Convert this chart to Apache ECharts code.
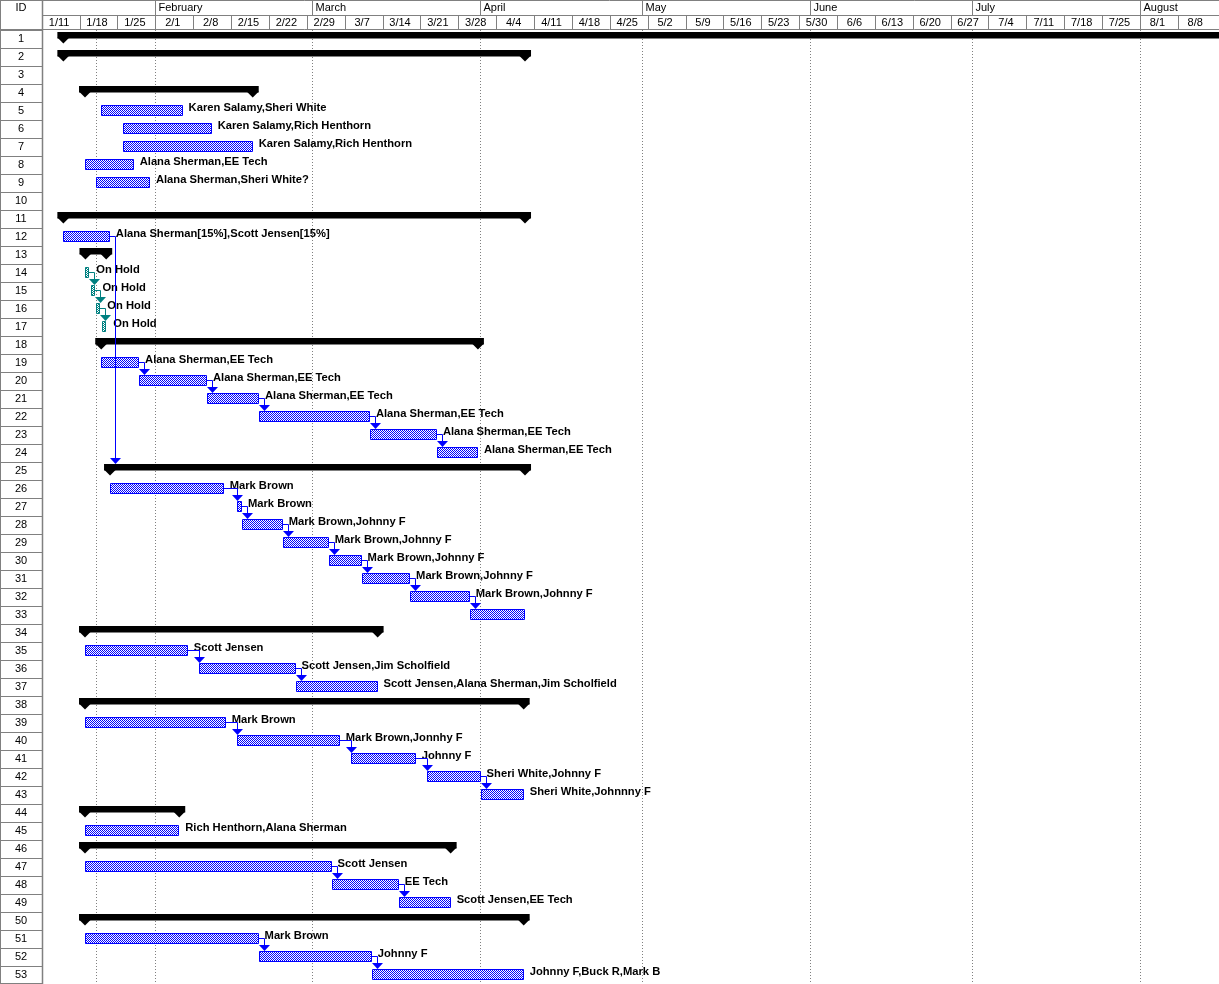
<!DOCTYPE html>
<html>
<head>
<meta charset="utf-8">
<script src="https://cdn.jsdelivr.net/npm/echarts@6/dist/echarts.min.js"></script>
<style>
html, body { margin: 0; padding: 0; background: #fff; }
#main { width: 1219px; height: 984px; }
</style>
</head>
<body>
<div id="main"></div>
<script>
// row IDs shown in the left column
var rowIds = ['1','2','3','4','5','6','7','8','9','10','11','12','13','14','15','16','17','18','19','20',
  '21','22','23','24','25','26','27','28','29','30','31','32','33','34','35','36','37','38','39','40',
  '41','42','43','44','45','46','47','48','49','50','51','52','53'];

// S = summary, T = task, H = on hold
var taskRows = [1, 2, 4, 5, 6, 7, 8, 9, 11, 12, 13, 14, 15, 16, 17, 18, 19, 20, 21, 22, 23, 24,
  25, 26, 27, 28, 29, 30, 31, 32, 33, 34, 35, 36, 37, 38, 39, 40, 41, 42, 43, 44, 45, 46, 47, 48, 49,
  50, 51, 52, 53];
var taskTypes = ['S', 'S', 'S', 'T', 'T', 'T', 'T', 'T', 'S', 'T', 'S', 'H', 'H', 'H', 'H', 'S', 'T', 'T', 'T', 'T', 'T', 'T',
  'S', 'T', 'T', 'T', 'T', 'T', 'T', 'T', 'T', 'S', 'T', 'T', 'T', 'S', 'T', 'T', 'T', 'T', 'T', 'S', 'T', 'S', 'T', 'T', 'T',
  'S', 'T', 'T', 'T'];
var taskStarts = [
  '2004-01-15 00:00', '2004-01-15 00:00', '2004-01-19 00:00', '2004-01-22 00:00', '2004-01-26 00:00',
  '2004-01-26 00:00', '2004-01-19 00:00', '2004-01-21 00:00', '2004-01-15 00:00', '2004-01-15 00:00',
  '2004-01-19 02:00', '2004-01-19 02:00', '2004-01-20 01:00', '2004-01-21 01:00', '2004-01-22 02:00',
  '2004-01-22 00:00', '2004-01-22 00:00', '2004-01-29 00:00', '2004-02-10 13:00', '2004-02-20 04:00',
  '2004-03-11 16:00', '2004-03-24 01:00',
  '2004-01-23 15:00', '2004-01-23 16:00', '2004-02-16 04:00', '2004-02-17 00:00', '2004-02-24 13:00',
  '2004-03-04 01:00', '2004-03-10 03:00', '2004-03-19 02:00', '2004-03-30 03:00',
  '2004-01-19 00:00', '2004-01-19 00:00', '2004-02-09 03:00', '2004-02-26 22:00',
  '2004-01-19 00:00', '2004-01-19 00:00', '2004-02-16 04:00', '2004-03-08 04:00', '2004-03-22 05:00',
  '2004-04-01 03:00', '2004-01-19 00:00', '2004-01-19 00:00', '2004-01-19 00:00', '2004-01-19 00:00',
  '2004-03-04 14:00', '2004-03-17 00:00',
  '2004-01-19 00:00', '2004-01-19 00:00', '2004-02-20 02:00', '2004-03-12 00:00'];
var taskEnds = [
  '2004-09-30 00:00', '2004-04-09 08:00', '2004-02-19 00:00', '2004-02-06 01:00', '2004-02-11 10:00',
  '2004-02-19 00:00', '2004-01-28 00:00', '2004-01-31 00:00', '2004-04-09 08:00', '2004-01-23 14:00',
  '2004-01-22 22:00', '2004-01-19 19:00', '2004-01-20 22:00', '2004-01-21 20:00', '2004-01-22 22:00',
  '2004-03-31 15:00', '2004-01-29 00:00', '2004-02-10 13:00', '2004-02-20 04:00', '2004-03-11 16:00',
  '2004-03-24 01:00', '2004-03-31 15:00',
  '2004-04-09 08:00', '2004-02-13 15:00', '2004-02-17 00:00', '2004-02-24 13:00', '2004-03-04 01:00',
  '2004-03-10 03:00', '2004-03-19 02:00', '2004-03-30 03:00', '2004-04-09 08:00',
  '2004-03-13 02:00', '2004-02-07 00:00', '2004-02-26 22:00', '2004-03-13 02:00',
  '2004-04-09 02:00', '2004-02-14 00:00', '2004-03-06 02:00', '2004-03-20 03:00', '2004-04-01 03:00',
  '2004-04-09 02:00', '2004-02-05 10:00', '2004-02-05 10:00', '2004-03-26 14:00', '2004-03-04 14:00',
  '2004-03-17 00:00', '2004-03-26 14:00',
  '2004-04-09 02:00', '2004-02-20 02:00', '2004-03-12 00:00', '2004-04-09 02:00'];
var taskNames = ['', '', '', 'Karen Salamy,Sheri White', 'Karen Salamy,Rich Henthorn',
  'Karen Salamy,Rich Henthorn', 'Alana Sherman,EE Tech', 'Alana Sherman,Sheri White?', '',
  'Alana Sherman[15%],Scott Jensen[15%]', '', 'On Hold', 'On Hold', 'On Hold', 'On Hold', '',
  'Alana Sherman,EE Tech', 'Alana Sherman,EE Tech', 'Alana Sherman,EE Tech', 'Alana Sherman,EE Tech',
  'Alana Sherman,EE Tech', 'Alana Sherman,EE Tech',
  '', 'Mark Brown', 'Mark Brown', 'Mark Brown,Johnny F', 'Mark Brown,Johnny F', 'Mark Brown,Johnny F',
  'Mark Brown,Johnny F', 'Mark Brown,Johnny F', '',
  '', 'Scott Jensen', 'Scott Jensen,Jim Scholfield', 'Scott Jensen,Alana Sherman,Jim Scholfield',
  '', 'Mark Brown', 'Mark Brown,Jonnhy F', 'Johnny F', 'Sheri White,Johnny F', 'Sheri White,Johnnny F',
  '', 'Rich Henthorn,Alana Sherman', '', 'Scott Jensen', 'EE Tech', 'Scott Jensen,EE Tech',
  '', 'Mark Brown', 'Johnny F', 'Johnny F,Buck R,Mark B'];

// predecessor row -> successor row
var links = [[12, 25], [14, 15], [15, 16], [16, 17],
  [19, 20], [20, 21], [21, 22], [22, 23], [23, 24],
  [26, 27], [27, 28], [28, 29], [29, 30], [30, 31], [31, 32], [32, 33],
  [35, 36], [36, 37], [39, 40], [40, 41], [41, 42], [42, 43],
  [47, 48], [48, 49], [51, 52], [52, 53]];

// timescale
var monthStarts = ['2004-01-01', '2004-02-01', '2004-03-01', '2004-04-01', '2004-05-01',
  '2004-06-01', '2004-07-01', '2004-08-01'];
var monthNames = ['', 'February', 'March', 'April', 'May', 'June', 'July', 'August'];
var weekLabels = ['1/11', '1/18', '1/25', '2/1', '2/8', '2/15', '2/22', '2/29', '3/7', '3/14', '3/21',
  '3/28', '4/4', '4/11', '4/18', '4/25', '5/2', '5/9', '5/16', '5/23', '5/30', '6/6', '6/13', '6/20',
  '6/27', '7/4', '7/11', '7/18', '7/25', '8/1', '8/8'];
var dottedDates = ['2004-01-21', '2004-02-01', '2004-03-01', '2004-04-01', '2004-05-01',
  '2004-06-01', '2004-07-01', '2004-08-01'];
var axisMin = '2004-01-11 05:38';
var axisMax = '2004-08-15 14:38';

var GRAY = '#808080';
var BLUE = '#0000ff';
var TEAL = '#008080';
var DAY = 86400000;
var LABEL_FONT = 'bold 11.2px "Liberation Sans", Arial, sans-serif';
var HEAD_FONT = '11px "Liberation Sans", Arial, sans-serif';

function toTime(s) {
  var p = s.split(/[- :\/]/);
  return new Date(+p[0], +p[1] - 1, +p[2], +(p[3] || 0), +(p[4] || 0)).getTime();
}

function makePattern(c) {
  var cv = document.createElement('canvas');
  cv.width = 2; cv.height = 2;
  var g = cv.getContext('2d');
  g.fillStyle = '#fff'; g.fillRect(0, 0, 2, 2);
  g.fillStyle = c; g.fillRect(0, 0, 1, 1); g.fillRect(1, 1, 1, 1);
  return { image: cv, repeat: 'repeat' };
}
var bluePat = makePattern(BLUE);
var tealPat = makePattern(TEAL);

var rowPos = {};
taskRows.forEach(function (r, i) { rowPos[r] = i; });

function txt(text, x, y, font, align) {
  return {
    type: 'text',
    style: {
      text: text, x: x, y: y, fill: '#000', font: font,
      align: align, textAlign: align, verticalAlign: 'middle', textVerticalAlign: 'middle'
    },
    silent: true
  };
}

function renderTask(params, api) {
  var i = params.dataIndex;
  var row = api.value(0);
  var p0 = api.coord([api.value(1), row]);
  var p1 = api.coord([api.value(2), row]);
  var c = Math.round(p0[1]);
  var x0 = p0[0], x1 = p1[0];
  var type = taskTypes[i];
  var kids = [];
  if (type === 'S') {
    kids.push({ type: 'rect', shape: { x: x0 - 6, y: c - 7, width: x1 - x0 + 12, height: 6.5 }, style: { fill: '#000' } });
    kids.push({ type: 'polygon', shape: { points: [[x0 - 6, c - 1.5], [x0 + 6, c - 1.5], [x0, c + 4.5]] }, style: { fill: '#000' } });
    kids.push({ type: 'polygon', shape: { points: [[x1 - 6, c - 1.5], [x1 + 6, c - 1.5], [x1, c + 4.5]] }, style: { fill: '#000' } });
  } else {
    var rx0 = Math.round(x0) + 0.5;
    var rx1 = Math.round(x1) - 0.5;
    var col = type === 'H' ? TEAL : BLUE;
    kids.push({
      type: 'rect',
      shape: { x: rx0, y: c - 5.5, width: Math.max(rx1 - rx0, 1), height: 10 },
      style: { fill: type === 'H' ? tealPat : bluePat, stroke: col, lineWidth: 1 }
    });
    if (taskNames[i]) {
      kids.push(txt(taskNames[i], x1 + (type === 'H' ? 7 : 6), c - 3, LABEL_FONT, 'left'));
    }
  }
  return { type: 'group', children: kids };
}

function renderLink(params, api) {
  var lk = links[params.dataIndex];
  var a = rowPos[lk[0]], b = rowPos[lk[1]];
  var pe = api.coord([toTime(taskEnds[a]), lk[0] - 1]);
  var ps = api.coord([toTime(taskStarts[b]), lk[1] - 1]);
  var xe = Math.round(pe[0]);
  var xa = Math.max(Math.round(ps[0]), xe + 5) + 0.5;
  var ye = Math.round(pe[1]) - 0.5;
  var top = Math.round(ps[1]) - (taskTypes[b] === 'S' ? 7 : 6);
  var col = taskTypes[a] === 'H' ? TEAL : BLUE;
  return {
    type: 'group',
    children: [
      { type: 'polyline', shape: { points: [[xe, ye], [xa, ye], [xa, top - 5]] }, style: { stroke: col, lineWidth: 1, fill: null } },
      { type: 'polygon', shape: { points: [[xa - 5.5, top - 6], [xa + 5.5, top - 6], [xa, top]] }, style: { fill: col } }
    ]
  };
}

function renderDotted(params, api) {
  var cs = params.coordSys;
  var x = Math.round(api.coord([api.value(0), 0])[0]) + 0.5;
  return {
    type: 'line',
    shape: { x1: x, y1: cs.y, x2: x, y2: cs.y + cs.height },
    style: { stroke: GRAY, lineWidth: 1, lineDash: [1, 2] }
  };
}

function renderMonth(params, api) {
  var cs = params.coordSys;
  var x = api.coord([api.value(0), 0])[0];
  var kids = [];
  if (x >= cs.x) {
    var lx = Math.round(x) + 0.5;
    kids.push({ type: 'line', shape: { x1: lx, y1: 0, x2: lx, y2: 15 }, style: { stroke: GRAY, lineWidth: 1 } });
    var name = monthNames[params.dataIndex];
    if (name) kids.push(txt(name, lx + 3, 8, HEAD_FONT, 'left'));
  }
  return { type: 'group', children: kids };
}

function renderWeek(params, api) {
  var cs = params.coordSys;
  var t = api.value(0);
  var x0 = api.coord([t, 0])[0];
  var x1 = api.coord([t + 7 * DAY, 0])[0];
  var kids = [];
  if (x0 >= cs.x) {
    var lx = Math.round(x0) + 0.5;
    kids.push({ type: 'line', shape: { x1: lx, y1: 15, x2: lx, y2: 30 }, style: { stroke: GRAY, lineWidth: 1 } });
  }
  kids.push(txt(weekLabels[params.dataIndex], (x0 + x1) / 2 - 1.5, 23, HEAD_FONT, 'center'));
  return { type: 'group', children: kids };
}

var taskData = taskRows.map(function (r, i) {
  return [r - 1, toTime(taskStarts[i]), toTime(taskEnds[i])];
});
var linkData = links.map(function (l) {
  return [toTime(taskStarts[rowPos[l[1]]]), l[1] - 1];
});

var option = {
  backgroundColor: '#ffffff',
  animation: false,
  grid: [
    { left: 43, right: 0, top: 30, bottom: 0 },
    { left: 43, right: 0, top: 0, height: 30 }
  ],
  xAxis: [
    { type: 'time', gridIndex: 0, min: toTime(axisMin), max: toTime(axisMax), show: false },
    { type: 'time', gridIndex: 1, min: toTime(axisMin), max: toTime(axisMax), show: false }
  ],
  yAxis: [
    {
      type: 'category', gridIndex: 0, data: rowIds, inverse: true,
      axisLine: { show: false },
      axisTick: { show: true, length: 43, interval: 0, lineStyle: { color: GRAY } },
      axisLabel: { interval: 0, margin: 22, align: 'center', fontSize: 11, color: '#000', fontFamily: 'Liberation Sans' },
      splitLine: { show: false }
    },
    { type: 'value', gridIndex: 1, min: 0, max: 1, show: false }
  ],
  graphic: [
    { type: 'line', shape: { x1: 0, y1: 0.5, x2: 1219, y2: 0.5 }, style: { stroke: GRAY } },
    { type: 'line', shape: { x1: 43, y1: 15.5, x2: 1219, y2: 15.5 }, style: { stroke: GRAY } },
    { type: 'line', shape: { x1: 0, y1: 29.5, x2: 1219, y2: 29.5 }, style: { stroke: GRAY } },
    { type: 'line', shape: { x1: 0.5, y1: 0, x2: 0.5, y2: 984 }, style: { stroke: GRAY } },
    { type: 'line', shape: { x1: 42.5, y1: 0, x2: 42.5, y2: 984 }, style: { stroke: GRAY, lineWidth: 1.5 } },
    { type: 'line', shape: { x1: 0, y1: 983.5, x2: 43, y2: 983.5 }, style: { stroke: GRAY } },
    { type: 'text', x: 21, y: 8, style: { text: 'ID', fill: '#000', font: HEAD_FONT, align: 'center', verticalAlign: 'middle' } }
  ],
  series: [
    {
      type: 'custom', name: 'gridlines', xAxisIndex: 0, yAxisIndex: 0,
      data: dottedDates.map(function (d) { return [toTime(d), 0]; }),
      encode: { x: 0, y: 1 }, renderItem: renderDotted, silent: true, z: 1
    },
    {
      type: 'custom', name: 'tasks', xAxisIndex: 0, yAxisIndex: 0,
      data: taskData, encode: { x: [1, 2], y: 0 }, renderItem: renderTask, clip: true, silent: true, z: 2
    },
    {
      type: 'custom', name: 'links', xAxisIndex: 0, yAxisIndex: 0,
      data: linkData, encode: { x: 0, y: 1 }, renderItem: renderLink, silent: true, z: 3
    },
    {
      type: 'custom', name: 'months', xAxisIndex: 1, yAxisIndex: 1,
      data: monthStarts.map(function (d) { return [toTime(d), 0]; }),
      encode: { x: 0, y: 1 }, renderItem: renderMonth, silent: true, z: 4
    },
    {
      type: 'custom', name: 'weeks', xAxisIndex: 1, yAxisIndex: 1,
      data: weekLabels.map(function (l) { return [toTime('2004/' + l), 0]; }),
      encode: { x: 0, y: 1 }, renderItem: renderWeek, clip: true, silent: true, z: 4
    }
  ]
};

var chart = echarts.init(document.getElementById('main'), null, { devicePixelRatio: 1 });
chart.setOption(option);
</script>
</body>
</html>
